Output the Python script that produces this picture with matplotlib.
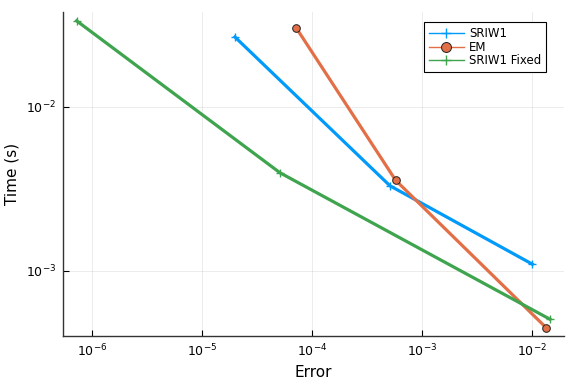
import matplotlib
matplotlib.use("Agg")
import matplotlib.pyplot as plt

# Error / time values (log-log work-precision plot)
sriw1_err = [1.98e-5, 5.08e-4, 1.00e-2]
sriw1_time = [2.655e-2, 3.30e-3, 1.10e-3]

em_err = [7.11e-5, 5.73e-4, 1.334e-2]
em_time = [3.03e-2, 3.56e-3, 4.52e-4]

fixed_err = [7.2e-7, 5.08e-5, 1.449e-2]
fixed_time = [3.33e-2, 3.96e-3, 5.08e-4]

xticks = [1e-6, 1e-5, 1e-4, 1e-3, 1e-2]
yticks = [1e-3, 1e-2]

BLUE = "#009AFA"
ORANGE = "#E36F47"
GREEN = "#3EA44E"

fig = plt.figure(figsize=(5.76, 3.84), dpi=100)
ax = fig.add_axes([0.1089, 0.125, 0.8708, 0.8445])

ax.plot(sriw1_err, sriw1_time, color=BLUE, lw=2.3, marker="+", ms=6,
        mew=1.0, label="SRIW1")
ax.plot(em_err, em_time, color=ORANGE, lw=2.3, marker="o", ms=5.5,
        mfc=ORANGE, mec="#222222", mew=0.7, label="EM")
ax.plot(fixed_err, fixed_time, color=GREEN, lw=2.3, marker="+", ms=6,
        mew=1.0, label="SRIW1 Fixed")

ax.set_xscale("log")
ax.set_yscale("log")
ax.set_xlim(10 ** -6.269, 10 ** -1.709)
ax.set_ylim(10 ** -3.396, 10 ** -1.422)
ax.set_xticks(xticks)
ax.set_yticks(yticks)
ax.minorticks_off()
ax.tick_params(direction="in", length=4, width=0.8, labelsize=9, pad=5)

ax.grid(True, color="#000000", alpha=0.08, lw=0.7)
ax.set_axisbelow(True)
for side in ("top", "right"):
    ax.spines[side].set_visible(False)
for side in ("left", "bottom"):
    ax.spines[side].set_linewidth(1.0)
    ax.spines[side].set_color("#333333")

ax.set_xlabel("Error", fontsize=11)
ax.set_ylabel("Time (s)", fontsize=11)

leg = ax.legend(loc="upper right", bbox_to_anchor=(0.975, 0.985), fontsize=8.5,
                fancybox=False, framealpha=1.0, edgecolor="black",
                handlelength=3.0, borderpad=0.4, labelspacing=0.05,
                handletextpad=0.4, markerscale=1.3)
leg.get_frame().set_linewidth(0.8)
for line in leg.get_lines():
    line.set_linewidth(1.0)

fig.savefig("out.png", dpi=100)
